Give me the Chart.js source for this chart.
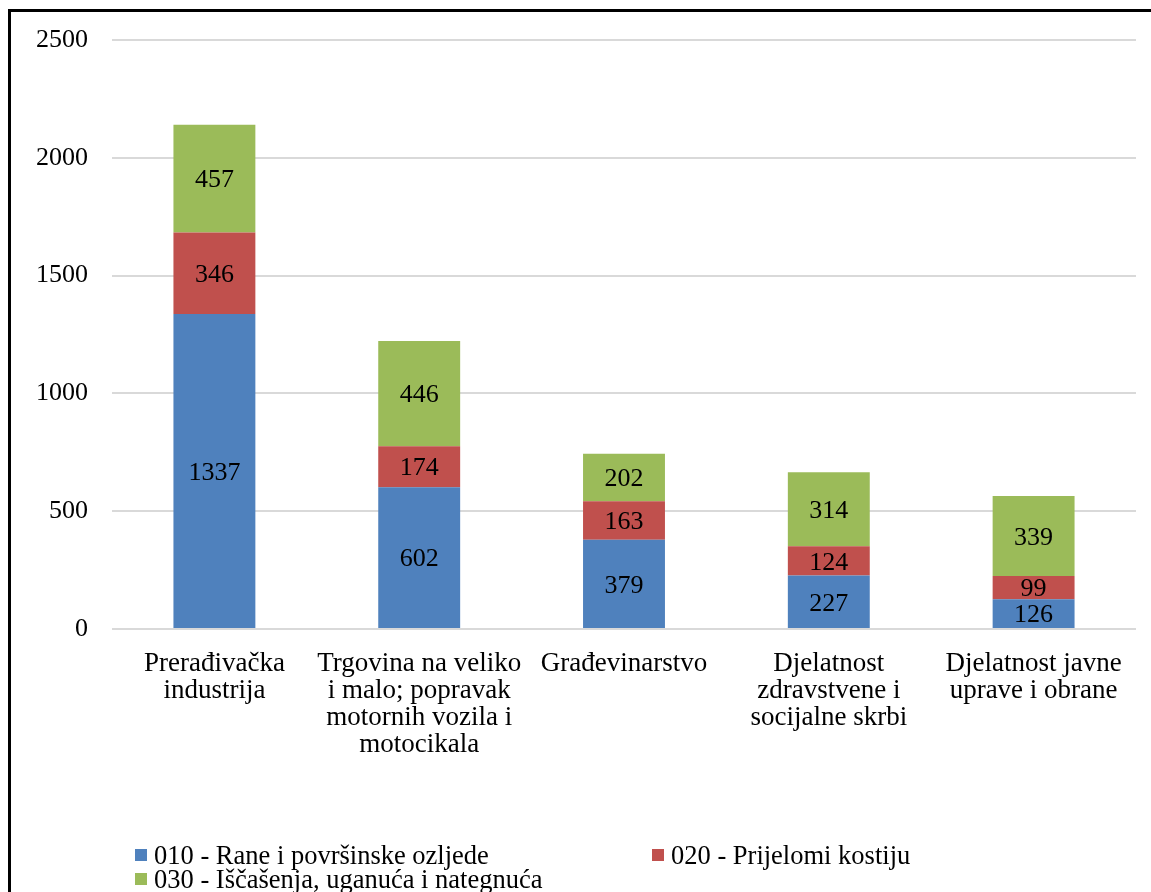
<!DOCTYPE html>
<html>
<head>
<meta charset="utf-8">
<script src="https://cdn.jsdelivr.net/npm/chart.js@4"></script>
<style>
  html, body { margin: 0; padding: 0; background: #fff; overflow: hidden; }
  #wrap { position: relative; width: 1151px; height: 892px; overflow: hidden; }
  #frame {
    position: absolute; left: 8px; top: 9px; width: 1200px; height: 1000px;
    border-left: 3px solid #000; border-top: 3px solid #000;
  }
  #chart { position: absolute; left: 0; top: 0; }
  #legend {
    position: absolute; left: 135px; top: 843px; width: 900px;
    font-family: "Liberation Serif", "Times New Roman", serif; font-size: 26.5px;
    color: #000; display: grid; grid-template-columns: 517px auto;
    line-height: 24px;
  }
  .item { display: flex; align-items: center; white-space: nowrap; }
  .box { width: 12px; height: 12px; margin-right: 7px; flex: none; }
</style>
</head>
<body>
<div id="wrap">
  <div id="frame"></div>
  <canvas id="chart" width="1151" height="892"></canvas>
  <div id="legend"></div>
</div>
<script>
const categories = [
  ["Prerađivačka", "industrija"],
  ["Trgovina na veliko", "i malo; popravak", "motornih vozila i", "motocikala"],
  ["Građevinarstvo"],
  ["Djelatnost", "zdravstvene i", "socijalne skrbi"],
  ["Djelatnost javne", "uprave i obrane"]
];
const seriesNames = [
  "010 - Rane i površinske ozljede",
  "020 - Prijelomi kostiju",
  "030 - Iščašenja, uganuća i nategnuća"
];
const rane = [1337, 602, 379, 227, 126];
const prijelomi = [346, 174, 163, 124, 99];
const iscasenja = [457, 446, 202, 314, 339];
const yTicks = [0, 500, 1000, 1500, 2000, 2500];

const colors = ["#4F81BD", "#C0504D", "#9BBB59"];
const serif = "'Liberation Serif', 'Times New Roman', serif";

// writes each segment's value in the middle of its bar piece
const segmentLabels = {
  id: "segmentLabels",
  afterDatasetsDraw(chart) {
    const ctx = chart.ctx;
    ctx.save();
    ctx.font = "26px " + serif;
    ctx.fillStyle = "#000";
    ctx.textAlign = "center";
    ctx.textBaseline = "middle";
    chart.data.datasets.forEach((ds, i) => {
      chart.getDatasetMeta(i).data.forEach((bar, j) => {
        const p = bar.getProps(["x", "y", "base"], true);
        ctx.fillText(String(ds.data[j]), p.x, (p.y + p.base) / 2 + 2);
      });
    });
    ctx.restore();
  }
};

const chart = new Chart(document.getElementById("chart"), {
  type: "bar",
  data: {
    labels: categories,
    datasets: [
      { label: seriesNames[0], data: rane, backgroundColor: colors[0] },
      { label: seriesNames[1], data: prijelomi, backgroundColor: colors[1] },
      { label: seriesNames[2], data: iscasenja, backgroundColor: colors[2] }
    ]
  },
  options: {
    responsive: false,
    animation: false,
    layout: { padding: { left: 10, right: 15, top: 40, bottom: 133 } },
    datasets: { bar: { categoryPercentage: 1, barPercentage: 0.4, borderWidth: 0 } },
    scales: {
      x: {
        stacked: true,
        grid: { display: false, drawTicks: false },
        border: { display: false },
        ticks: {
          color: "#000",
          font: { family: serif, size: 27, lineHeight: 1.0 },
          padding: 21,
          maxRotation: 0,
          autoSkip: false
        },
        afterFit(scale) { scale.height = 130; }
      },
      y: {
        stacked: true,
        min: 0,
        max: 2500,
        afterBuildTicks(scale) { scale.ticks = yTicks.map(v => ({ value: v })); },
        grid: { color: "#D9D9D9", lineWidth: 2, drawTicks: false },
        border: { display: false },
        ticks: {
          color: "#000",
          font: { family: serif, size: 26 },
          padding: 24,
          callback: v => String(v)
        },
        afterFit(scale) { scale.width = 102; }
      }
    },
    plugins: {
      legend: { display: false },
      tooltip: { enabled: false }
    }
  },
  plugins: [segmentLabels]
});

// legend laid out in two columns under the plot
const legendEl = document.getElementById("legend");
chart.data.datasets.forEach(ds => {
  const item = document.createElement("div");
  item.className = "item";
  const box = document.createElement("span");
  box.className = "box";
  box.style.background = ds.backgroundColor;
  const txt = document.createElement("span");
  txt.textContent = ds.label;
  item.appendChild(box);
  item.appendChild(txt);
  legendEl.appendChild(item);
});
</script>
</body>
</html>
